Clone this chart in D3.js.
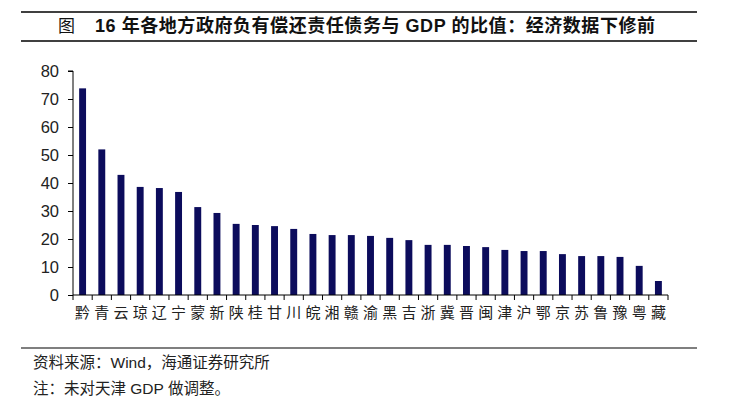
<!DOCTYPE html>
<html><head><meta charset="utf-8">
<script src="https://cdn.jsdelivr.net/npm/d3@7"></script>
<style>
html,body{margin:0;padding:0;background:#fff;}
svg{display:block;}
</style></head>
<body>
<svg id="c" width="731" height="403"></svg>
<script>
const categories = ["黔","青","云","琼","辽","宁","蒙","新","陕","桂","甘","川","皖","湘","赣","渝","黑","吉","浙","冀","晋","闽","津","沪","鄂","京","苏","鲁","豫","粤","藏"];
const values = [73.8,52.0,42.9,38.6,38.2,36.8,31.4,29.3,25.4,25.0,24.6,23.6,21.8,21.4,21.4,21.1,20.4,19.6,17.9,17.9,17.5,17.1,16.1,15.7,15.7,14.6,13.9,13.9,13.6,10.4,5.0];
const yTicks = [0,10,20,30,40,50,60,70,80];
const titleText = "16 年各地方政府负有偿还责任债务与 GDP 的比值：经济数据下修前";
const sourceText = "资料来源：Wind，海通证券研究所";
const noteText = "注：未对天津 GDP 做调整。";

const svg = d3.select("#c");
const cjk = "'Noto Sans CJK SC','Noto Sans',sans-serif";
const latin = "'Liberation Sans',Arial,'Noto Sans CJK SC',sans-serif";

// title block
svg.append("line").attr("x1",21).attr("x2",697).attr("y1",12).attr("y2",12).attr("stroke","#000").attr("stroke-width",1.3);
svg.append("line").attr("x1",21).attr("x2",697).attr("y1",41).attr("y2",41).attr("stroke","#000").attr("stroke-width",1.3);
svg.append("text").attr("x",58).attr("y",32).attr("font-family",cjk).attr("font-size",17).attr("fill","#111").text("图");
svg.append("text").attr("x",95).attr("y",32).attr("font-family",latin).attr("font-size",18).attr("font-weight","bold").attr("fill","#111")
  .attr("textLength",560).attr("lengthAdjust","spacing").text(titleText);

// chart
const x0 = 73, x1 = 668, yTop = 71, yBot = 295;
const x = d3.scaleBand().domain(categories).range([x0,x1]).paddingInner(0.64).paddingOuter(0.32);
const y = d3.scaleLinear().domain([0,80]).range([yBot,yTop]);

svg.append("g").selectAll("rect").data(values).join("rect")
  .attr("x",(d,i)=>x(categories[i]))
  .attr("width",x.bandwidth())
  .attr("y",d=>y(d))
  .attr("height",d=>y(0)-y(d))
  .attr("fill","#0c0c5c");

const yAxis = svg.append("g").attr("transform",`translate(${x0},0)`)
  .call(d3.axisLeft(y).tickValues(yTicks).tickSize(5).tickPadding(9));
yAxis.select(".domain").attr("stroke","#000").attr("d",`M-5,${yTop}H0V${yBot}`);
yAxis.selectAll("text").attr("font-family",latin).attr("font-size",16.5).attr("fill","#222");

// x axis with ticks at band boundaries
const xBoundaries = d3.range(categories.length+1).map(i=>x0+i*(x1-x0)/categories.length);
svg.append("line").attr("x1",x0).attr("x2",x1).attr("y1",yBot).attr("y2",yBot).attr("stroke","#000");
svg.append("g").selectAll("line").data(xBoundaries).join("line")
  .attr("x1",d=>d).attr("x2",d=>d).attr("y1",yBot).attr("y2",yBot+5).attr("stroke","#000");
svg.append("g").selectAll("text").data(categories).join("text")
  .attr("x",d=>x(d)+x.bandwidth()/2).attr("y",318)
  .attr("text-anchor","middle").attr("font-family",cjk).attr("font-size",15).attr("fill","#222")
  .text(d=>d);

// footer
svg.append("line").attr("x1",21).attr("x2",697).attr("y1",348).attr("y2",348).attr("stroke","#000").attr("stroke-width",1.2);
svg.append("text").attr("x",33).attr("y",368).attr("font-family",latin).attr("font-size",15.5).attr("fill","#222").text(sourceText);
svg.append("text").attr("x",33).attr("y",394).attr("font-family",latin).attr("font-size",15.5).attr("fill","#222").text(noteText);
</script>
</body></html>
